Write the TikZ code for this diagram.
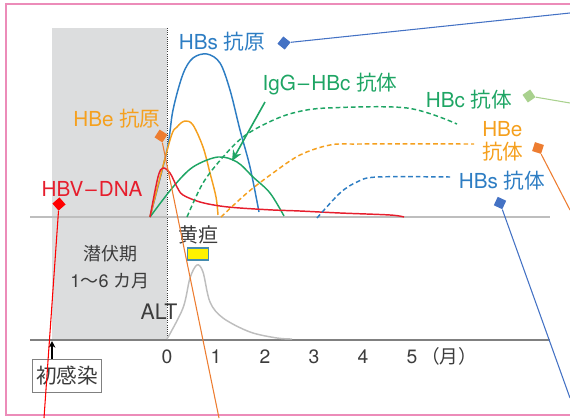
\documentclass[tikz,border=0pt]{standalone}
\usepackage{fontspec}
\setmainfont{TeX Gyre Heros}
\newfontfamily\jpfont{Noto Sans CJK JP}
\newcommand{\jtext}[1]{{\jpfont #1}}
\usetikzlibrary{arrows.meta}
\definecolor{hbsBlue}{RGB}{45,125,195}
\definecolor{hbcGreen}{RGB}{30,165,100}
\definecolor{hbeOrange}{RGB}{245,160,30}
\definecolor{dnaRed}{RGB}{230,30,45}
\definecolor{tagOrange}{RGB}{237,125,49}
\definecolor{tagBlue}{RGB}{68,114,196}
\definecolor{tagGreen}{RGB}{169,209,142}
\definecolor{framePink}{RGB}{236,140,185}
\definecolor{shadeGray}{RGB}{220,221,222}
\definecolor{inkGray}{RGB}{60,60,60}
\definecolor{altGray}{RGB}{190,190,190}

\begin{document}
\begin{tikzpicture}[x=0.75pt,y=-0.75pt,
    lbl/.style={font=\fontsize{15.5}{17}\selectfont,inner sep=0pt},
    txt/.style={font=\fontsize{14}{16}\selectfont,inner sep=0pt,text=inkGray},
    curve/.style={line width=1.1pt,smooth,tension=0.55},
    dashcurve/.style={curve,dash pattern=on 3.5pt off 2.2pt},
    tagbox/.style={draw=none,rectangle,minimum size=7pt,inner sep=0pt}]
    \useasboundingbox (0,0) rectangle (570,418);
    \fill[shadeGray] (52,28) rectangle (167,340);
    \draw[framePink,line width=1.6pt] (570,4) -- (6,4) -- (6,415) -- (570,415);
    \draw[inkGray,densely dotted,line width=0.6pt] (167,28) -- (167,340);
    \draw[altGray,line width=2pt] (30,217) -- (550,217);
    \draw[gray,line width=1pt] (30,340) -- (550,340);

    \draw[hbsBlue,curve] plot coordinates {(150,217) (167,150) (173,110) (183,74) (193,58) (207,54) (220,63) (230,90) (240,130) (250,167) (259,212)};
    \draw[hbeOrange,curve] plot coordinates {(150,217) (170,140) (177,127) (185,121) (193,125) (203,147) (210,173) (216,197) (218,215)};
    \draw[hbcGreen,curve] plot coordinates {(150,217) (173,187) (193,167) (218,157) (237,162) (253,177) (270,193) (284,216)};
    \draw[dnaRed,curve] plot coordinates {(150,217) (158,177) (163,168) (170,173) (177,187) (183,195) (200,202) (220,206) (240,208) (273,210) (300,211) (340,213) (390,215) (404,217)};
    \draw[hbcGreen,dashcurve] plot coordinates {(187,217) (203,183) (223,157) (243,137) (267,123) (293,113) (327,108) (407,108) (457,124)};
    \draw[hbeOrange,dashcurve] plot coordinates {(221,217) (247,193) (273,173) (300,155) (330,145) (360,144) (474,144)};
    \draw[hbsBlue,dashcurve] plot coordinates {(317,218) (340,193) (357,182) (377,177) (450,177)};
    \draw[altGray,curve] plot coordinates {(167,339) (183,308) (190,278) (197,265) (203,272) (210,302) (223,318) (250,332) (277,338) (292,339)};

    \node[lbl,text=hbsBlue] (hbsag) at (222,42) {HBs \jtext{抗原}};
    \node[lbl,text=hbcGreen] (igghbc) at (330,84) {IgG\kern1.5pt–\kern1.5ptHBc \jtext{抗体}};
    \node[lbl,text=hbcGreen] (hbcab) at (469,100) {HBc \jtext{抗体}};
    \node[lbl,text=hbeOrange,align=left,anchor=west] (hbeab) at (482,141) {HBe\\[0pt]\jtext{抗体}};
    \node[lbl,text=hbsBlue] (hbsab) at (502,181) {HBs \jtext{抗体}};
    \node[lbl,text=hbeOrange] (hbeag) at (117,119) {HBe \jtext{抗原}};
    \node[lbl,text=dnaRed] (hbvdna) at (92,189) {HBV\kern1.5pt–\kern1.5ptDNA};

    \coordinate (iggTail) at (265,102);
    \coordinate (iggTip) at (232,161);
    \draw[hbcGreen,line width=1.2pt,-{Stealth[length=8pt,width=7pt]}] (iggTail) -- (iggTip);

    \node[txt,font=\fontsize{13.5}{16}\selectfont] (latent) at (110,254) {\jtext{潜伏期}};
    \node[txt,font=\fontsize{13.5}{16}\selectfont] (months) at (110,281) {1\jtext{～}6 \jtext{カ月}};
    \node[txt,font=\fontsize{16}{18}\selectfont] (alt) at (159,312) {ALT};
    \node[txt,font=\fontsize{15}{17}\selectfont] (jaundice) at (198,235) {\jtext{黄疸}};
    \node[draw={rgb,255:red,70;green,140;blue,175},fill=yellow,line width=1pt,minimum width=16pt,minimum height=9pt,inner sep=0pt] (jbar) at (198,254) {};

    \foreach \m in {0,...,5}
      \node[txt,font=\fontsize{14.5}{16}\selectfont] (tick\m) at (167+49*\m,357) {\m};
    \node[txt] (unit) at (449,356) {\jtext{（月）}};

    \node[txt,font=\fontsize{15.5}{17}\selectfont,draw=gray,line width=0.8pt,minimum width=52pt,minimum height=25pt] (infect) at (67,376) {\jtext{初感染}};
    \coordinate (onset) at (52,341);
    \draw[black,line width=1pt,-{Stealth[length=5pt,width=5pt]}] (infect.north -| onset) -- (onset);

    \node[tagbox,fill=tagBlue,rotate=51] (hbsagTag) at (284,43) {};
    \coordinate (hbsagEnd) at (570,13);
    \draw[tagBlue,line width=0.8pt] (hbsagTag) -- (hbsagEnd);
    \node[tagbox,fill=tagGreen,rotate=35] (hbcabTag) at (529,96) {};
    \coordinate (hbcabEnd) at (570,103);
    \draw[tagGreen,line width=0.8pt] (hbcabTag) -- (hbcabEnd);
    \node[tagbox,fill=tagOrange,rotate=-18] (hbeabTag) at (538,148) {};
    \coordinate (hbeabEnd) at (570,210);
    \draw[tagOrange,line width=0.8pt] (hbeabTag) -- (hbeabEnd);
    \node[tagbox,fill=tagBlue,rotate=-25] (hbsabTag) at (500,203) {};
    \coordinate (hbsabEnd) at (570,398);
    \draw[tagBlue,line width=0.8pt] (hbsabTag) -- (hbsabEnd);
    \node[tagbox,fill=tagOrange,rotate=-33] (hbeagTag) at (161,136) {};
    \coordinate (hbeagEnd) at (219,418);
    \draw[tagOrange,line width=0.8pt] (hbeagTag) -- (hbeagEnd);
    \node[tagbox,fill=red,rotate=41] (hbvdnaTag) at (59,204) {};
    \coordinate (hbvdnaEnd) at (44,418);
    \draw[red,line width=0.8pt] (hbvdnaTag) -- (hbvdnaEnd);
\end{tikzpicture}
\end{document}
